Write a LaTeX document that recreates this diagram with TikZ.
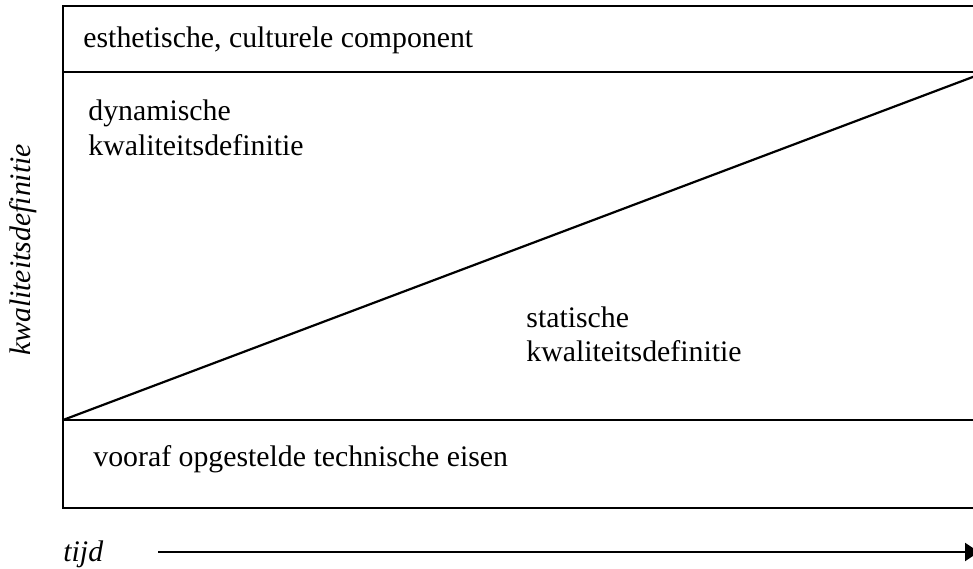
\documentclass[tikz,border=0pt]{standalone}
\usepackage{fontspec}
\setmainfont{Liberation Serif}
\usetikzlibrary{arrows.meta}
\begin{document}
\begin{tikzpicture}[x=0.5pt,y=-0.5pt,
  rule/.style={line width=1.1pt},
  txt/.style={inner sep=0pt, anchor=base west, font=\fontsize{14.9}{17.5}\selectfont},
  axistxt/.style={inner sep=0pt, font=\fontsize{14.9}{17.5}\selectfont\itshape}]
\useasboundingbox (0,0) rectangle (973,568);
\clip (0,0) rectangle (973,568);

% frame and its two horizontal bands
\coordinate (tl) at (63,6);
\coordinate (br) at (986,508);
\coordinate (upL) at (63,72);
\coordinate (upR) at (986,72);
\coordinate (loL) at (63,420);
\coordinate (loR) at (986,420);
\draw[rule] (tl) rectangle (br);
\draw[rule] (upL) -- (upR);
\draw[rule] (loL) -- (loR);

% boundary between dynamic and static definition
\draw[rule] (loL) -- (upR);

% band labels
\node[txt] (aesth) at (83,47) {esthetische, culturele component};
\node[txt] (dyn1) at (88,120) {dynamische};
\node[txt] (dyn2) at (88,155) {kwaliteitsdefinitie};
\node[txt] (stat1) at (526,327) {statische};
\node[txt] (stat2) at (526,361) {kwaliteitsdefinitie};
\node[txt] (tech) at (93,466) {vooraf opgestelde technische eisen};

% axes
\node[axistxt, anchor=base, rotate=90] (yax) at (31,250) {kwaliteitsdefinitie};
\node[axistxt, anchor=base west] (xax) at (63,561) {tijd};
\coordinate (t0) at (158,552);
\coordinate (t1) at (979,552);
\draw[rule, -{Triangle[length=7pt, width=9pt]}] (t0) -- (t1);
\end{tikzpicture}
\end{document}
